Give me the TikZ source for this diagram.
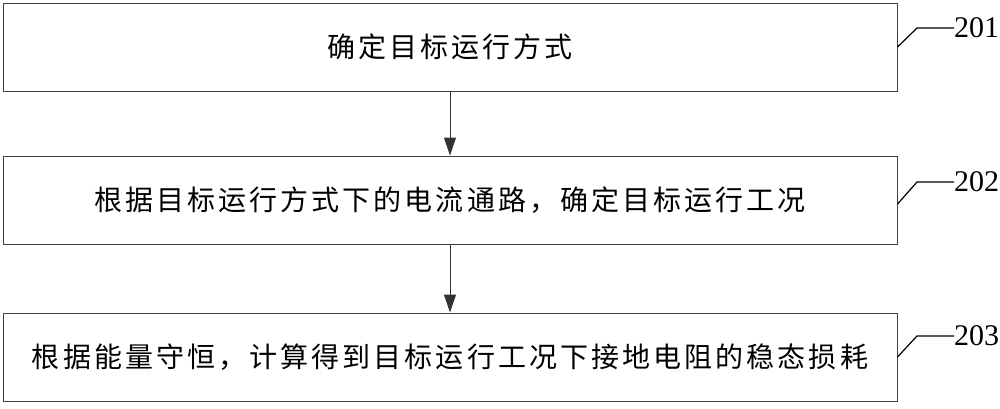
\documentclass[tikz,border=0pt]{standalone}
\usepackage{fontspec}
\setmainfont{Liberation Serif}
\newfontfamily\cjk[LetterSpace=11]{Noto Sans CJK SC}
\usetikzlibrary{arrows.meta}
\tikzset{
  stepbox/.style={draw=black!75, line width=1pt, minimum width=894pt, minimum height=88pt, inner sep=0pt, font=\cjk\fontsize{28}{30}\selectfont},
  flow/.style={draw=black!80, line width=1pt, -{Triangle[length=18pt,width=12pt]}},
  leader/.style={draw=black, line width=1.2pt},
  tag/.style={anchor=west, inner sep=0pt, font=\fontsize{30}{32}\selectfont}
}
\begin{document}
\begin{tikzpicture}[x=1pt,y=-1pt]
\useasboundingbox (0,0) rectangle (1000,408);
\node[stepbox] (b1) at (450,47) {确定目标运行方式};
\node[stepbox] (b2) at (450,200) {根据目标运行方式下的电流通路，确定目标运行工况};
\node[stepbox] (b3) at (450,357) {根据能量守恒，计算得到目标运行工况下接地电阻的稳态损耗};
\draw[flow] (b1.south) -- (b2.north);
\draw[flow] (b2.south) -- (b3.north);
\node[tag] (l1) at (954,28) {201};
\node[tag] (l2) at (954,182) {202};
\node[tag] (l3) at (954,336) {203};
\coordinate (k1) at (917,28);
\coordinate (k2) at (917,182);
\coordinate (k3) at (917,336);
\draw[leader] (b1.east) -- (k1) -- (l1.west);
\draw[leader] ([yshift=-4pt]b2.east) -- (k2) -- (l2.west);
\draw[leader] (b3.east) -- (k3) -- (l3.west);
\end{tikzpicture}
\end{document}
